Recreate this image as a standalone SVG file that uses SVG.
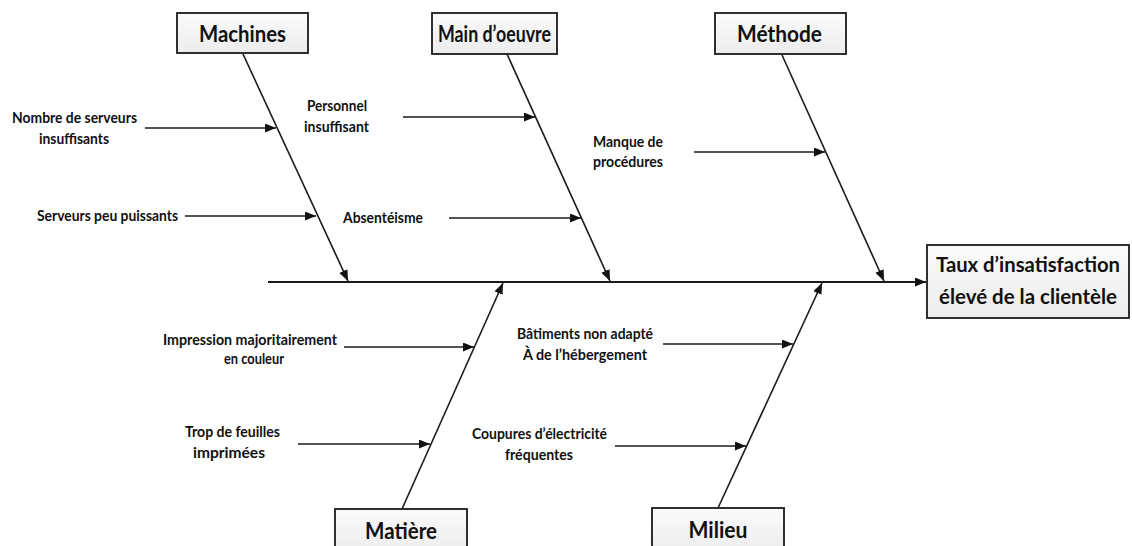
<svg xmlns="http://www.w3.org/2000/svg" width="1132" height="546" viewBox="0 0 1132 546">
  <defs>
    <linearGradient id="boxFill" x1="0" y1="0" x2="0" y2="1">
      <stop offset="0" stop-color="#fbfbfb"/>
      <stop offset="1" stop-color="#ececec"/>
    </linearGradient>
    <marker id="arrow" markerUnits="userSpaceOnUse" markerWidth="12" markerHeight="10" refX="11" refY="4.5" orient="auto">
      <path d="M0,0 L11,4.5 L0,9 z" fill="#111"/>
    </marker>
    <style>
      .box { fill: url(#boxFill); stroke: #1a1a1a; stroke-width: 1.8; }
      .cat { font-family: Lato, "Liberation Sans", sans-serif; font-weight: bold; font-size: 23px; fill: #111; text-anchor: middle; }
      .effect { font-family: Lato, "Liberation Sans", sans-serif; font-weight: bold; font-size: 21px; fill: #111; text-anchor: middle; }
      .cause { font-family: Lato, "Liberation Sans", sans-serif; font-weight: bold; font-size: 16px; fill: #111; text-anchor: middle; }
      .bone { stroke: #1a1a1a; stroke-width: 1.6; fill: none; marker-end: url(#arrow); }
      .spine { stroke: #1a1a1a; stroke-width: 2.2; fill: none; marker-end: url(#arrow); }
    </style>
  </defs>
  <rect width="1132" height="546" fill="#ffffff"/>

  <!-- connectors: spine, category bones and cause arrows -->
  <g id="connectors">
    <line class="spine" x1="268" y1="282" x2="926" y2="282"/>
    <line class="bone" x1="243" y1="54" x2="348" y2="281"/>
    <line class="bone" x1="507" y1="54" x2="610" y2="281"/>
    <line class="bone" x1="782" y1="55" x2="884" y2="281"/>
    <line class="bone" x1="402" y1="509" x2="503" y2="283"/>
    <line class="bone" x1="718" y1="508" x2="822" y2="283"/>

    <line class="bone" x1="145" y1="128" x2="276" y2="128"/>
    <line class="bone" x1="185" y1="216" x2="316" y2="216"/>
    <line class="bone" x1="403" y1="117" x2="535" y2="117"/>
    <line class="bone" x1="449" y1="218" x2="581" y2="218"/>
    <line class="bone" x1="694" y1="152" x2="825" y2="152"/>
    <line class="bone" x1="344" y1="347" x2="474" y2="347"/>
    <line class="bone" x1="298" y1="444" x2="430" y2="444"/>
    <line class="bone" x1="663" y1="344" x2="793" y2="344"/>
    <line class="bone" x1="615" y1="446" x2="746" y2="446"/>
  </g>

  <!-- category boxes -->
  <g id="machines">
    <rect class="box" x="177" y="13" width="131" height="40"/>
    <text class="cat" x="242.5" y="42" textLength="87" lengthAdjust="spacingAndGlyphs">Machines</text>
  </g>
  <g id="main-oeuvre">
    <rect class="box" x="432" y="13" width="125" height="41"/>
    <text class="cat" x="494.5" y="42" textLength="113" lengthAdjust="spacingAndGlyphs">Main d’oeuvre</text>
  </g>
  <g id="methode">
    <rect class="box" x="715" y="13" width="131" height="41"/>
    <text class="cat" x="779.5" y="42" textLength="85" lengthAdjust="spacingAndGlyphs">Méthode</text>
  </g>
  <g id="matiere">
    <rect class="box" x="335" y="509" width="132" height="44"/>
    <text class="cat" x="401" y="539" textLength="72" lengthAdjust="spacingAndGlyphs">Matière</text>
  </g>
  <g id="milieu">
    <rect class="box" x="652" y="508" width="132" height="45"/>
    <text class="cat" x="718" y="538" textLength="59" lengthAdjust="spacingAndGlyphs">Milieu</text>
  </g>

  <!-- effect box -->
  <g id="effet">
    <rect class="box" x="927" y="245" width="202" height="73"/>
    <text class="effect" x="1028" y="272" textLength="184" lengthAdjust="spacingAndGlyphs">Taux d’insatisfaction</text>
    <text class="effect" x="1028" y="304" textLength="178" lengthAdjust="spacingAndGlyphs">élevé de la clientèle</text>
  </g>

  <!-- cause labels -->
  <g id="cause-nombre-serveurs">
    <text class="cause" x="74.5" y="123" textLength="125" lengthAdjust="spacingAndGlyphs">Nombre de serveurs</text>
    <text class="cause" x="74" y="144" textLength="70" lengthAdjust="spacingAndGlyphs">insuffisants</text>
  </g>
  <g id="cause-serveurs-puissants">
    <text class="cause" x="107.5" y="221" textLength="141" lengthAdjust="spacingAndGlyphs">Serveurs peu puissants</text>
  </g>
  <g id="cause-personnel">
    <text class="cause" x="337" y="111" textLength="60" lengthAdjust="spacingAndGlyphs">Personnel</text>
    <text class="cause" x="336.5" y="132" textLength="65" lengthAdjust="spacingAndGlyphs">insuffisant</text>
  </g>
  <g id="cause-absenteisme">
    <text class="cause" x="383" y="223" textLength="80" lengthAdjust="spacingAndGlyphs">Absentéisme</text>
  </g>
  <g id="cause-procedures">
    <text class="cause" x="628" y="147" textLength="70" lengthAdjust="spacingAndGlyphs">Manque de</text>
    <text class="cause" x="628" y="167" textLength="70" lengthAdjust="spacingAndGlyphs">procédures</text>
  </g>
  <g id="cause-impression">
    <text class="cause" x="250" y="345" textLength="174" lengthAdjust="spacingAndGlyphs">Impression majoritairement</text>
    <text class="cause" x="254" y="364" textLength="60" lengthAdjust="spacingAndGlyphs">en couleur</text>
  </g>
  <g id="cause-feuilles">
    <text class="cause" x="232.5" y="437" textLength="95" lengthAdjust="spacingAndGlyphs">Trop de feuilles</text>
    <text class="cause" x="229" y="458" textLength="72" lengthAdjust="spacingAndGlyphs">imprimées</text>
  </g>
  <g id="cause-batiments">
    <text class="cause" x="585" y="339" textLength="136" lengthAdjust="spacingAndGlyphs">Bâtiments non adapté</text>
    <text class="cause" x="585" y="360" textLength="124" lengthAdjust="spacingAndGlyphs">À de l’hébergement</text>
  </g>
  <g id="cause-electricite">
    <text class="cause" x="539.5" y="439" textLength="135" lengthAdjust="spacingAndGlyphs">Coupures d’électricité</text>
    <text class="cause" x="539" y="460" textLength="68" lengthAdjust="spacingAndGlyphs">fréquentes</text>
  </g>
</svg>
